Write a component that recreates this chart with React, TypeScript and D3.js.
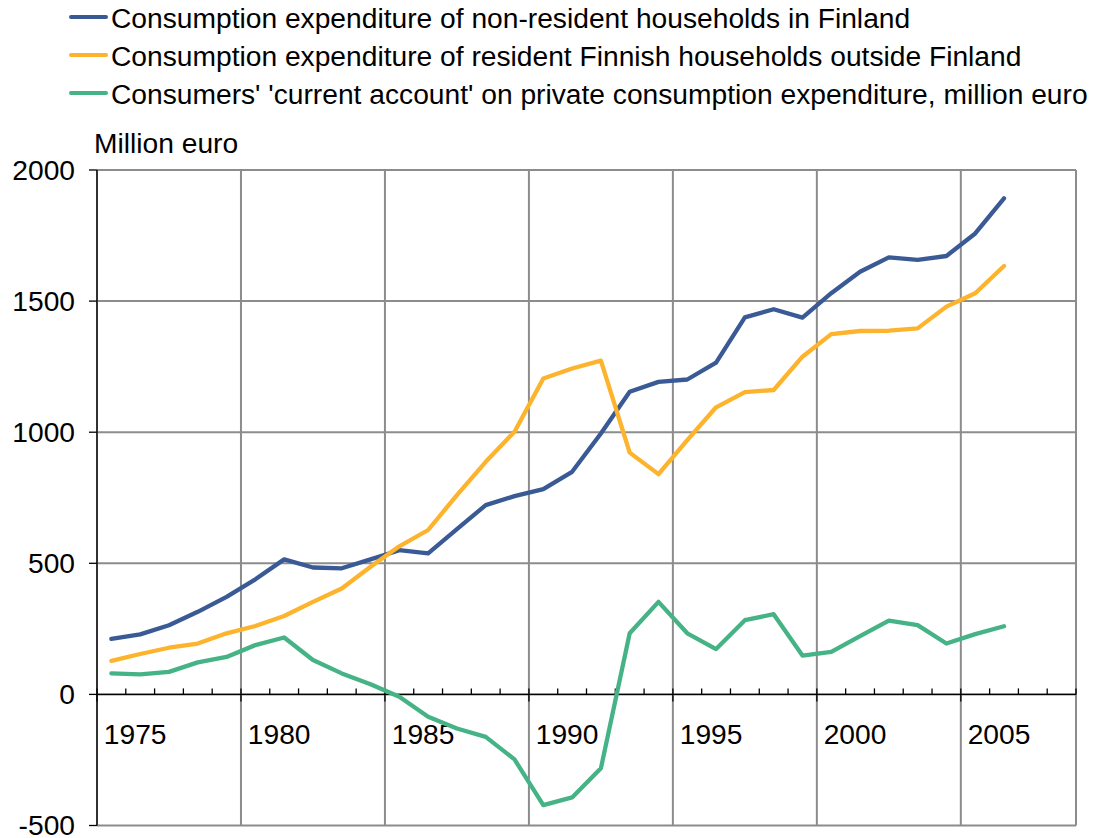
import React, { useEffect } from 'react';
import * as d3 from 'd3';

// categories on the x axis (one band per year), data run 1974-2005
const years = d3.range(1974, 2008);
const dataYears = d3.range(1974, 2006);

const nonResident = [212, 229, 264, 315, 372, 439, 515, 484, 481, 515, 550, 538, 630, 722, 756, 783,
  849, 995, 1154, 1192, 1201, 1265, 1438, 1469, 1437, 1530, 1612, 1667, 1657, 1672, 1758, 1892];
const residentAbroad = [128, 154, 178, 194, 233, 261, 299, 353, 404, 487, 565, 627, 760, 887, 1002, 1205,
  1243, 1273, 922, 840, 970, 1095, 1153, 1161, 1288, 1374, 1386, 1387, 1396, 1479, 1530, 1634];
const currentAccount = [80, 76, 86, 122, 143, 188, 217, 131, 80, 39, -9, -85, -130, -162, -248, -422,
  -393, -282, 233, 353, 233, 173, 283, 306, 148, 162, 222, 281, 264, 194, 230, 260];

const yTicks = [-500, 0, 500, 1000, 1500, 2000];

const series = [
  { name: 'Consumption expenditure of non-resident households in Finland', values: nonResident, color: '#3a5a95' },
  { name: 'Consumption expenditure of resident Finnish households outside Finland', values: residentAbroad, color: '#fdb32b' },
  { name: "Consumers' 'current account' on private consumption expenditure, million euro", values: currentAccount, color: '#45b386' },
];

const width = 1097;
const height = 838;
const plot = { left: 97, right: 1076, top: 170, bottom: 825.5 };
const font = 'Arial, "Liberation Sans", sans-serif';
const fs = 28.2;

export default function App() {
  useEffect(() => {
    document.body.style.margin = '0';
  }, []);

  const x = d3.scaleBand<number>().domain(years).range([plot.left, plot.right]);
  const y = d3.scaleLinear().domain([-500, 2000]).range([plot.bottom, plot.top]);
  const bw = x.bandwidth();
  const cx = (yr: number) => (x(yr) as number) + bw / 2;

  const line = d3.line<number>()
    .x((_, i) => cx(dataYears[i]))
    .y(d => y(d));

  const majorYears = years.filter((_, i) => i % 5 === 0);
  const y0 = y(0);

  return (
    <svg width={width} height={height} style={{ display: 'block', background: '#fff' }} fontFamily={font}>
      {/* legend */}
      {series.map((s, i) => (
        <g key={s.name} transform={`translate(0, ${17 + i * 38})`}>
          <line x1={71} x2={106} y1={0} y2={0} stroke={s.color} strokeWidth={4} strokeLinecap="round" />
          <text x={111} y={10.5} fontSize={fs} fill="#000">{s.name}</text>
        </g>
      ))}

      <text x={94} y={153} fontSize={fs} fill="#000">Million euro</text>

      {/* horizontal gridlines */}
      {yTicks.map(t => (
        <line key={'h' + t} x1={plot.left} x2={plot.right} y1={y(t)} y2={y(t)} stroke="#8c8c8c" strokeWidth={2} />
      ))}
      {/* vertical gridlines every five categories */}
      {majorYears.concat([years[years.length - 1] + 1]).map((yr, i) => {
        const xx = i < majorYears.length ? (x(yr) as number) : plot.right;
        return <line key={'v' + yr} x1={xx} x2={xx} y1={plot.top} y2={plot.bottom} stroke="#8c8c8c" strokeWidth={2} />;
      })}

      {/* y axis */}
      <line x1={plot.left} x2={plot.left} y1={plot.top} y2={plot.bottom} stroke="#000" strokeWidth={1.3} />
      {yTicks.map(t => (
        <g key={'yt' + t}>
          <line x1={plot.left - 8} x2={plot.left} y1={y(t)} y2={y(t)} stroke="#000" strokeWidth={1.3} />
          <text x={75} y={y(t)} dy="0.35em" textAnchor="end" fontSize={fs} fill="#000">{t}</text>
        </g>
      ))}

      {/* category axis at zero */}
      <line x1={plot.left} x2={plot.right} y1={y0} y2={y0} stroke="#000" strokeWidth={1.3} />
      {years.map((yr, i) => {
        const xx = x(yr) as number;
        const major = i % 5 === 0;
        return (
          <line key={'xt' + yr} x1={xx} x2={xx} y1={major ? y0 + 7 : y0} y2={y0 - 6}
            stroke="#000" strokeWidth={1.3} />
        );
      })}
      <line x1={plot.right} x2={plot.right} y1={y0} y2={y0 - 6} stroke="#000" strokeWidth={1.3} />
      {years.filter(yr => yr % 5 === 0).map(yr => (
        <text key={'xl' + yr} x={cx(yr) - 5} y={744} textAnchor="middle" fontSize={fs} fill="#000">{yr}</text>
      ))}

      {/* series */}
      {series.map(s => (
        <path key={s.name + 'p'} d={line(s.values) || ''} fill="none" stroke={s.color} strokeWidth={4.3}
          strokeLinejoin="round" strokeLinecap="round" />
      ))}
    </svg>
  );
}
